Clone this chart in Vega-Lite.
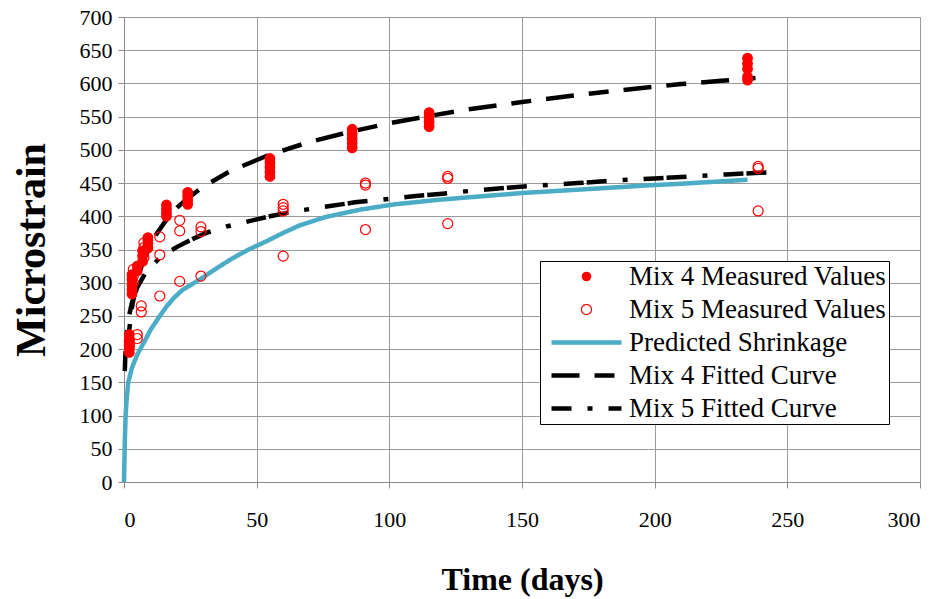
{
  "$schema": "https://vega.github.io/schema/vega-lite/v6.json",
  "width": 796,
  "height": 465,
  "autosize": {"type": "none"},
  "padding": {"left": 124, "top": 17, "right": 22, "bottom": 117},
  "background": "white",
  "config": {
    "font": "Liberation Serif",
    "view": {"stroke": "#9a9a9a", "strokeWidth": 1},
    "axis": {
      "gridColor": "#9a9a9a", "gridWidth": 1, "gridOpacity": 1,
      "domainColor": "#8a8a8a", "tickColor": "#8a8a8a", "tickSize": 6,
      "labelColor": "black", "titleColor": "black",
      "labelFont": "Liberation Serif", "titleFont": "Liberation Serif"
    }
  },
  "datasets": {
    "measured": [
      {"series": "Mix 4 Measured Values", "t": 2, "v": 195},
      {"series": "Mix 4 Measured Values", "t": 2, "v": 201},
      {"series": "Mix 4 Measured Values", "t": 2, "v": 208},
      {"series": "Mix 4 Measured Values", "t": 2, "v": 215},
      {"series": "Mix 4 Measured Values", "t": 2, "v": 222},
      {"series": "Mix 4 Measured Values", "t": 3, "v": 283},
      {"series": "Mix 4 Measured Values", "t": 3, "v": 290},
      {"series": "Mix 4 Measured Values", "t": 3, "v": 297},
      {"series": "Mix 4 Measured Values", "t": 3, "v": 305},
      {"series": "Mix 4 Measured Values", "t": 3, "v": 312},
      {"series": "Mix 4 Measured Values", "t": 5, "v": 318},
      {"series": "Mix 4 Measured Values", "t": 5, "v": 325},
      {"series": "Mix 4 Measured Values", "t": 7, "v": 332},
      {"series": "Mix 4 Measured Values", "t": 7, "v": 340},
      {"series": "Mix 4 Measured Values", "t": 7, "v": 348},
      {"series": "Mix 4 Measured Values", "t": 9, "v": 352},
      {"series": "Mix 4 Measured Values", "t": 9, "v": 358},
      {"series": "Mix 4 Measured Values", "t": 9, "v": 364},
      {"series": "Mix 4 Measured Values", "t": 9, "v": 368},
      {"series": "Mix 4 Measured Values", "t": 16, "v": 400},
      {"series": "Mix 4 Measured Values", "t": 16, "v": 405},
      {"series": "Mix 4 Measured Values", "t": 16, "v": 411},
      {"series": "Mix 4 Measured Values", "t": 16, "v": 417},
      {"series": "Mix 4 Measured Values", "t": 24, "v": 418},
      {"series": "Mix 4 Measured Values", "t": 24, "v": 424},
      {"series": "Mix 4 Measured Values", "t": 24, "v": 430},
      {"series": "Mix 4 Measured Values", "t": 24, "v": 436},
      {"series": "Mix 4 Measured Values", "t": 55, "v": 460},
      {"series": "Mix 4 Measured Values", "t": 55, "v": 467},
      {"series": "Mix 4 Measured Values", "t": 55, "v": 474},
      {"series": "Mix 4 Measured Values", "t": 55, "v": 481},
      {"series": "Mix 4 Measured Values", "t": 55, "v": 487},
      {"series": "Mix 4 Measured Values", "t": 86, "v": 503},
      {"series": "Mix 4 Measured Values", "t": 86, "v": 510},
      {"series": "Mix 4 Measured Values", "t": 86, "v": 517},
      {"series": "Mix 4 Measured Values", "t": 86, "v": 524},
      {"series": "Mix 4 Measured Values", "t": 86, "v": 531},
      {"series": "Mix 4 Measured Values", "t": 115, "v": 535},
      {"series": "Mix 4 Measured Values", "t": 115, "v": 542},
      {"series": "Mix 4 Measured Values", "t": 115, "v": 549},
      {"series": "Mix 4 Measured Values", "t": 115, "v": 556},
      {"series": "Mix 4 Measured Values", "t": 235, "v": 605},
      {"series": "Mix 4 Measured Values", "t": 235, "v": 610},
      {"series": "Mix 4 Measured Values", "t": 235, "v": 622},
      {"series": "Mix 4 Measured Values", "t": 235, "v": 630},
      {"series": "Mix 4 Measured Values", "t": 235, "v": 638},
      {"series": "Mix 5 Measured Values", "t": 2, "v": 205},
      {"series": "Mix 5 Measured Values", "t": 2, "v": 212},
      {"series": "Mix 5 Measured Values", "t": 3.5, "v": 300},
      {"series": "Mix 5 Measured Values", "t": 3.5, "v": 310},
      {"series": "Mix 5 Measured Values", "t": 3.5, "v": 320},
      {"series": "Mix 5 Measured Values", "t": 5, "v": 216},
      {"series": "Mix 5 Measured Values", "t": 5, "v": 222},
      {"series": "Mix 5 Measured Values", "t": 6.5, "v": 256},
      {"series": "Mix 5 Measured Values", "t": 6.5, "v": 265},
      {"series": "Mix 5 Measured Values", "t": 7.5, "v": 338},
      {"series": "Mix 5 Measured Values", "t": 7.5, "v": 346},
      {"series": "Mix 5 Measured Values", "t": 7.5, "v": 353},
      {"series": "Mix 5 Measured Values", "t": 7.5, "v": 360},
      {"series": "Mix 5 Measured Values", "t": 13.5, "v": 280},
      {"series": "Mix 5 Measured Values", "t": 13.5, "v": 342},
      {"series": "Mix 5 Measured Values", "t": 13.5, "v": 369},
      {"series": "Mix 5 Measured Values", "t": 21, "v": 302},
      {"series": "Mix 5 Measured Values", "t": 21, "v": 378},
      {"series": "Mix 5 Measured Values", "t": 21, "v": 394},
      {"series": "Mix 5 Measured Values", "t": 29, "v": 310},
      {"series": "Mix 5 Measured Values", "t": 29, "v": 377},
      {"series": "Mix 5 Measured Values", "t": 29, "v": 384},
      {"series": "Mix 5 Measured Values", "t": 60, "v": 340},
      {"series": "Mix 5 Measured Values", "t": 60, "v": 408},
      {"series": "Mix 5 Measured Values", "t": 60, "v": 413},
      {"series": "Mix 5 Measured Values", "t": 60, "v": 418},
      {"series": "Mix 5 Measured Values", "t": 91, "v": 380},
      {"series": "Mix 5 Measured Values", "t": 91, "v": 447},
      {"series": "Mix 5 Measured Values", "t": 91, "v": 450},
      {"series": "Mix 5 Measured Values", "t": 122, "v": 389},
      {"series": "Mix 5 Measured Values", "t": 122, "v": 457},
      {"series": "Mix 5 Measured Values", "t": 122, "v": 460},
      {"series": "Mix 5 Measured Values", "t": 239, "v": 408},
      {"series": "Mix 5 Measured Values", "t": 239, "v": 472},
      {"series": "Mix 5 Measured Values", "t": 239, "v": 475}
    ],
    "curves": [
      {"series": "Predicted Shrinkage", "t": 0, "v": 0},
      {"series": "Predicted Shrinkage", "t": 0.3, "v": 60},
      {"series": "Predicted Shrinkage", "t": 0.6, "v": 100},
      {"series": "Predicted Shrinkage", "t": 1, "v": 125},
      {"series": "Predicted Shrinkage", "t": 1.6, "v": 150},
      {"series": "Predicted Shrinkage", "t": 3, "v": 172},
      {"series": "Predicted Shrinkage", "t": 5, "v": 192},
      {"series": "Predicted Shrinkage", "t": 7.5, "v": 210},
      {"series": "Predicted Shrinkage", "t": 10, "v": 229},
      {"series": "Predicted Shrinkage", "t": 13, "v": 247},
      {"series": "Predicted Shrinkage", "t": 16, "v": 264},
      {"series": "Predicted Shrinkage", "t": 19, "v": 278},
      {"series": "Predicted Shrinkage", "t": 22, "v": 289},
      {"series": "Predicted Shrinkage", "t": 29, "v": 306},
      {"series": "Predicted Shrinkage", "t": 35, "v": 322},
      {"series": "Predicted Shrinkage", "t": 41, "v": 337},
      {"series": "Predicted Shrinkage", "t": 47, "v": 350},
      {"series": "Predicted Shrinkage", "t": 54, "v": 363},
      {"series": "Predicted Shrinkage", "t": 60, "v": 375},
      {"series": "Predicted Shrinkage", "t": 66, "v": 386},
      {"series": "Predicted Shrinkage", "t": 76, "v": 399},
      {"series": "Predicted Shrinkage", "t": 89, "v": 410},
      {"series": "Predicted Shrinkage", "t": 102, "v": 418},
      {"series": "Predicted Shrinkage", "t": 119, "v": 425},
      {"series": "Predicted Shrinkage", "t": 150, "v": 435},
      {"series": "Predicted Shrinkage", "t": 175, "v": 441},
      {"series": "Predicted Shrinkage", "t": 195, "v": 446},
      {"series": "Predicted Shrinkage", "t": 210, "v": 449},
      {"series": "Predicted Shrinkage", "t": 235, "v": 455},
      {"series": "Mix 4 Fitted Curve", "t": 1.3, "v": 196},
      {"series": "Mix 4 Fitted Curve", "t": 2, "v": 230},
      {"series": "Mix 4 Fitted Curve", "t": 3, "v": 263},
      {"series": "Mix 4 Fitted Curve", "t": 4, "v": 285},
      {"series": "Mix 4 Fitted Curve", "t": 5, "v": 303},
      {"series": "Mix 4 Fitted Curve", "t": 6, "v": 318},
      {"series": "Mix 4 Fitted Curve", "t": 8, "v": 340},
      {"series": "Mix 4 Fitted Curve", "t": 10, "v": 358},
      {"series": "Mix 4 Fitted Curve", "t": 12, "v": 372},
      {"series": "Mix 4 Fitted Curve", "t": 16, "v": 395},
      {"series": "Mix 4 Fitted Curve", "t": 20, "v": 413},
      {"series": "Mix 4 Fitted Curve", "t": 24, "v": 427},
      {"series": "Mix 4 Fitted Curve", "t": 30, "v": 445},
      {"series": "Mix 4 Fitted Curve", "t": 40, "v": 468},
      {"series": "Mix 4 Fitted Curve", "t": 55, "v": 493},
      {"series": "Mix 4 Fitted Curve", "t": 70, "v": 512},
      {"series": "Mix 4 Fitted Curve", "t": 86, "v": 528},
      {"series": "Mix 4 Fitted Curve", "t": 100, "v": 540},
      {"series": "Mix 4 Fitted Curve", "t": 115, "v": 551},
      {"series": "Mix 4 Fitted Curve", "t": 130, "v": 561},
      {"series": "Mix 4 Fitted Curve", "t": 150, "v": 572},
      {"series": "Mix 4 Fitted Curve", "t": 170, "v": 582},
      {"series": "Mix 4 Fitted Curve", "t": 190, "v": 591},
      {"series": "Mix 4 Fitted Curve", "t": 210, "v": 599},
      {"series": "Mix 4 Fitted Curve", "t": 225, "v": 604},
      {"series": "Mix 4 Fitted Curve", "t": 238, "v": 608},
      {"series": "Mix 5 Fitted Curve", "t": 0.3, "v": 167},
      {"series": "Mix 5 Fitted Curve", "t": 0.5, "v": 190},
      {"series": "Mix 5 Fitted Curve", "t": 1, "v": 221},
      {"series": "Mix 5 Fitted Curve", "t": 2, "v": 252},
      {"series": "Mix 5 Fitted Curve", "t": 3, "v": 270},
      {"series": "Mix 5 Fitted Curve", "t": 5, "v": 293},
      {"series": "Mix 5 Fitted Curve", "t": 8, "v": 314},
      {"series": "Mix 5 Fitted Curve", "t": 13.6, "v": 338},
      {"series": "Mix 5 Fitted Curve", "t": 20, "v": 354},
      {"series": "Mix 5 Fitted Curve", "t": 26, "v": 366},
      {"series": "Mix 5 Fitted Curve", "t": 31, "v": 375},
      {"series": "Mix 5 Fitted Curve", "t": 39, "v": 385},
      {"series": "Mix 5 Fitted Curve", "t": 55, "v": 400},
      {"series": "Mix 5 Fitted Curve", "t": 65, "v": 408},
      {"series": "Mix 5 Fitted Curve", "t": 77, "v": 415},
      {"series": "Mix 5 Fitted Curve", "t": 87, "v": 421},
      {"series": "Mix 5 Fitted Curve", "t": 97, "v": 425},
      {"series": "Mix 5 Fitted Curve", "t": 109, "v": 430},
      {"series": "Mix 5 Fitted Curve", "t": 120, "v": 434},
      {"series": "Mix 5 Fitted Curve", "t": 130, "v": 438},
      {"series": "Mix 5 Fitted Curve", "t": 141, "v": 442},
      {"series": "Mix 5 Fitted Curve", "t": 155, "v": 446},
      {"series": "Mix 5 Fitted Curve", "t": 171, "v": 450},
      {"series": "Mix 5 Fitted Curve", "t": 185, "v": 454},
      {"series": "Mix 5 Fitted Curve", "t": 200, "v": 457},
      {"series": "Mix 5 Fitted Curve", "t": 210, "v": 459},
      {"series": "Mix 5 Fitted Curve", "t": 227, "v": 463},
      {"series": "Mix 5 Fitted Curve", "t": 247, "v": 467}
    ]
  },
  "encoding": {
    "x": {
      "field": "t", "type": "quantitative",
      "scale": {"domain": [0, 300], "nice": false},
      "axis": {
        "title": "Time (days)", "values": [0, 50, 100, 150, 200, 250, 300],
        "labelFontSize": 22, "labelPadding": 21,
        "titleFontSize": 32, "titleFontWeight": "bold", "titlePadding": 34
      }
    },
    "y": {
      "field": "v", "type": "quantitative",
      "scale": {"domain": [0, 700], "nice": false},
      "axis": {
        "title": "Microstrain",
        "values": [0, 50, 100, 150, 200, 250, 300, 350, 400, 450, 500, 550, 600, 650, 700],
        "labelFontSize": 22, "labelPadding": 6,
        "titleFontSize": 42, "titleFontWeight": "bold", "titlePadding": 26
      }
    }
  },
  "layer": [
    {
      "data": {"name": "curves"},
      "mark": {"type": "line", "opacity": 1, "strokeCap": "butt"},
      "encoding": {
        "stroke": {
          "field": "series", "type": "nominal", "title": null,
          "scale": {
            "domain": ["Mix 4 Measured Values", "Mix 5 Measured Values", "Predicted Shrinkage", "Mix 4 Fitted Curve", "Mix 5 Fitted Curve"],
            "range": ["#ff0000", "#ff0000", "#4bacc6", "#000000", "#000000"]
          },
          "legend": {
            "orient": "none", "legendX": 416, "legendY": 244,
            "padding": 2, "strokeColor": "black", "fillColor": "white",
            "labelFont": "Liberation Serif", "labelFontSize": 27, "labelColor": "black",
            "labelLimit": 0, "clipHeight": 27, "rowPadding": 5,
            "symbolOffset": 7, "labelOffset": 5,
            "symbolStrokeWidth": {"expr": "(datum.value === 'Mix 4 Measured Values' ? 0 : (datum.value === 'Mix 5 Measured Values' ? 1.3 : 4.5))"}
          }
        },
        "strokeDash": {
          "field": "series", "type": "nominal", "title": null,
          "scale": {
            "domain": ["Mix 4 Measured Values", "Mix 5 Measured Values", "Predicted Shrinkage", "Mix 4 Fitted Curve", "Mix 5 Fitted Curve"],
            "range": [[1, 0], [1, 0], [1, 0], [28, 15, 20, 15], [20, 16, 5, 16, 20, 3]]
          }
        },
        "strokeWidth": {
          "field": "series", "type": "nominal", "title": null, "legend": null,
          "scale": {
            "type": "ordinal",
            "domain": ["Mix 4 Measured Values", "Mix 5 Measured Values", "Predicted Shrinkage", "Mix 4 Fitted Curve", "Mix 5 Fitted Curve"],
            "range": [0, 1.2, 4.5, 4.5, 4.5]
          }
        }
      }
    },
    {
      "data": {"name": "measured"},
      "mark": {"type": "point", "filled": true, "opacity": 1, "strokeWidth": 1.2},
      "encoding": {
        "stroke": {"field": "series", "type": "nominal", "title": null},
        "fill": {
          "field": "series", "type": "nominal", "title": null,
          "scale": {
            "domain": ["Mix 4 Measured Values", "Mix 5 Measured Values", "Predicted Shrinkage", "Mix 4 Fitted Curve", "Mix 5 Fitted Curve"],
            "range": ["#ff0000", "transparent", "transparent", "transparent", "transparent"]
          }
        },
        "shape": {
          "field": "series", "type": "nominal", "title": null,
          "scale": {
            "domain": ["Mix 4 Measured Values", "Mix 5 Measured Values", "Predicted Shrinkage", "Mix 4 Fitted Curve", "Mix 5 Fitted Curve"],
            "range": ["circle", "circle", "stroke", "stroke", "stroke"]
          }
        },
        "size": {
          "field": "series", "type": "nominal", "title": null,
          "scale": {
            "type": "ordinal",
            "domain": ["Mix 4 Measured Values", "Mix 5 Measured Values", "Predicted Shrinkage", "Mix 4 Fitted Curve", "Mix 5 Fitted Curve"],
            "range": [92, 100, 4900, 4900, 4900]
          }
        }
      }
    }
  ]
}
